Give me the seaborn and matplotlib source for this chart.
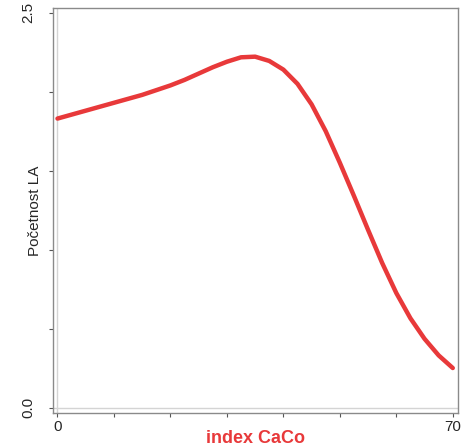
import numpy as np
import pandas as pd
import seaborn as sns
import matplotlib.pyplot as plt

# values
index_caco = [0, 2.5, 5, 7.5, 10, 12.5, 15, 17.5, 20, 22.5, 25, 27.5, 30, 32.5, 35,
              37.5, 40, 42.5, 45, 47.5, 50, 52.5, 55, 57.5, 60, 62.5, 65, 67.5, 70]
pocetnost = [1.83, 1.855, 1.88, 1.905, 1.93, 1.955, 1.98, 2.01, 2.04, 2.075, 2.115, 2.155, 2.19, 2.218, 2.222,
             2.195, 2.14, 2.05, 1.92, 1.75, 1.55, 1.34, 1.125, 0.915, 0.725, 0.565, 0.435, 0.33, 0.25]
x_ticks = [0, 10, 20, 30, 40, 50, 60, 70]
x_labels = ["0", "", "", "", "", "", "", "70"]
y_ticks = [0, 0.5, 1.0, 1.5, 2.0, 2.5]
y_labels = ["0.0", "", "", "", "", "2.5"]

sns.set_style("white")
plt.rcParams['font.family'] = ['Liberation Sans', 'DejaVu Sans']

df = pd.DataFrame({"x": index_caco, "y": pocetnost})

fig = plt.figure(figsize=(4.73, 4.47), dpi=100)
ax = fig.add_axes([0.112, 0.076, 0.856, 0.906])

ax.axvline(0, color="#d4d4d4", lw=1, zorder=0)
ax.axhline(0, color="#d4d4d4", lw=1, zorder=0)
sns.lineplot(data=df, x="x", y="y", color="#e8393a", linewidth=3.2, ax=ax,
             solid_joinstyle="round", solid_capstyle="round")

ax.set_xlim(-0.8, 70.9)
ax.set_ylim(-0.035, 2.53)
ax.set_xticks(x_ticks)
ax.set_xticklabels(x_labels, fontsize=11)
ax.set_yticks(y_ticks)
ax.set_yticklabels(y_labels, fontsize=11, rotation=90, va="center")
ax.tick_params(axis="both", direction="out", length=3, width=0.8, color="#555555",
               bottom=True, left=True, pad=2)
ax.tick_params(axis="y", pad=10)

for s in ax.spines.values():
    s.set_color("#8a8a8a")
    s.set_linewidth(1)

ax.set_xlabel("index CaCo", color="#e8393a", fontsize=13, fontweight="bold", labelpad=-3)
ax.set_ylabel("Početnost LA", fontsize=11)
ax.yaxis.set_label_coords(-0.028, 0.5)

fig.savefig("out.png", dpi=100)
